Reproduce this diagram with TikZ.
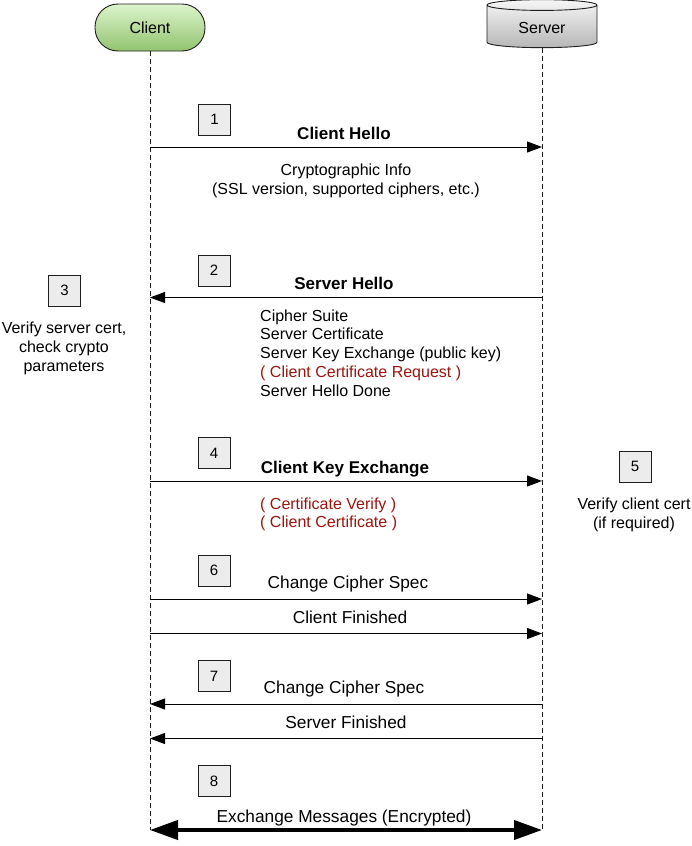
\documentclass[tikz,border=0pt]{standalone}
\usepackage{fontspec}
\setmainfont{Liberation Sans}
\usetikzlibrary{arrows.meta,shapes.geometric,positioning}
\definecolor{tlsgreenlight}{RGB}{220,244,204}
\definecolor{tlsgreen}{RGB}{146,196,112}
\definecolor{tlsgreylight}{RGB}{246,246,246}
\definecolor{tlsgrey}{RGB}{182,182,182}
\definecolor{tlsbox}{RGB}{236,236,236}
\definecolor{tlsred}{RGB}{155,20,15}
\definecolor{tlsline}{RGB}{30,30,30}

\begin{document}
\begin{tikzpicture}[x=1pt, y=-1pt,
                    client/.style = {
                      rectangle, rounded corners=23pt,
                      minimum width=110pt, minimum height=47pt,
                      top color=tlsgreenlight, bottom color=tlsgreen,
                      draw=tlsline, line width=0.9pt,
                      font=\fontsize{16}{19}\selectfont
                    },
                    server/.style = {
                      cylinder, shape border rotate=90, aspect=0.2,
                      minimum width=110pt, minimum height=48pt,
                      top color=tlsgreylight, bottom color=tlsgrey,
                      draw=tlsline, line width=0.9pt,
                      font=\fontsize{16}{19}\selectfont
                    },
                    stepnum/.style = {
                      rectangle, minimum width=32pt, minimum height=31pt,
                      fill=tlsbox, draw=tlsline, line width=0.9pt,
                      font=\fontsize{15}{18}\selectfont
                    },
                    lifeline/.style = {draw=tlsline, line width=0.9pt,
                                       dash pattern=on 5pt off 3pt},
                    msg/.style = {draw=black, line width=1pt,
                                  -{Triangle[length=15pt,width=11pt]}},
                    bulk/.style = {draw=black, line width=4pt,
                                   {Triangle[length=28pt,width=19pt]}-{Triangle[length=28pt,width=19pt]}},
                    msgtitle/.style = {anchor=base, inner sep=0pt,
                                       font=\bfseries\fontsize{17}{20}\selectfont},
                    msglabel/.style = {anchor=base, inner sep=0pt,
                                       font=\fontsize{17.3}{20}\selectfont},
                    detail/.style = {anchor=base, inner sep=0pt, align=center,
                                     font=\fontsize{16}{18.75}\selectfont},
                    notes/.style = {anchor=base west, inner sep=0pt, align=left,
                                    font=\fontsize{16}{18.75}\selectfont}]
    \useasboundingbox (0,0) rectangle (692,846);

    \node(client)[client] at (150,27.5) {Client};
    \node(server)[server] at (542,27.5) {Server};
    \coordinate (clientend) at (150,830);
    \coordinate (serverend) at (542,830);
    \draw[lifeline] (client) -- (clientend);
    \draw[lifeline] (server) -- (serverend);

    % 1: client hello
    \node(num1)[stepnum] at (214.5,119.5) {1};
    \coordinate (c1) at (150,147);
    \coordinate (s1) at (542,147);
    \draw[msg] (c1) -- (s1);
    \node(hello)[msgtitle] at (344,139) {Client Hello};
    \node(cryptoinfo)[detail] at (346,194.5)
      {Cryptographic Info\\(SSL version, supported ciphers, etc.)};

    % 2: server hello
    \node(num2)[stepnum] at (214,270.5) {2};
    \coordinate (s2) at (542,297.5);
    \coordinate (c2) at (150,297.5);
    \draw[msg] (s2) -- (c2);
    \node(shello)[msgtitle] at (344,289) {Server Hello};
    \node(shellolist)[notes] at (260,396)
      {Cipher Suite\\Server Certificate\\Server Key Exchange (public key)\\
       \textcolor{tlsred}{( Client Certificate Request )}\\Server Hello Done};

    % 3: client side check
    \node(num3)[stepnum] at (64.5,290.5) {3};
    \node(verifyserver)[detail] at (64,371)
      {Verify server cert,\\check crypto\\parameters};

    % 4: client key exchange
    \node(num4)[stepnum] at (214,453) {4};
    \coordinate (c4) at (150,481);
    \coordinate (s4) at (542,481);
    \draw[msg] (c4) -- (s4);
    \node(keyx)[msgtitle] at (345,473) {Client Key Exchange};
    \node(keyxlist)[notes, text=tlsred] at (260,527.75)
      {( Certificate Verify )\\( Client Certificate )};

    % 5: server side check
    \node(num5)[stepnum] at (635,466.5) {5};
    \node(verifyclient)[detail] at (634,528)
      {Verify client cert\\(if required)};

    % 6: client finished
    \node(num6)[stepnum] at (214,570.5) {6};
    \coordinate (c6) at (150,599);
    \coordinate (s6) at (542,599);
    \coordinate (c6b) at (150,633.5);
    \coordinate (s6b) at (542,633.5);
    \draw[msg] (c6) -- (s6);
    \draw[msg] (c6b) -- (s6b);
    \node(cspec1)[msglabel] at (348,588) {Change Cipher Spec};
    \node(cfin)[msglabel] at (350,623) {Client Finished};

    % 7: server finished
    \node(num7)[stepnum] at (214,676) {7};
    \coordinate (s7) at (542,704);
    \coordinate (c7) at (150,704);
    \coordinate (s7b) at (542,738.5);
    \coordinate (c7b) at (150,738.5);
    \draw[msg] (s7) -- (c7);
    \draw[msg] (s7b) -- (c7b);
    \node(cspec2)[msglabel] at (344,693) {Change Cipher Spec};
    \node(sfin)[msglabel] at (346,728) {Server Finished};

    % 8: encrypted traffic
    \node(num8)[stepnum] at (214,781) {8};
    \draw[bulk] (clientend) -- (serverend);
    \node(exchange)[msglabel] at (344,822) {Exchange Messages (Encrypted)};
\end{tikzpicture}
\end{document}
